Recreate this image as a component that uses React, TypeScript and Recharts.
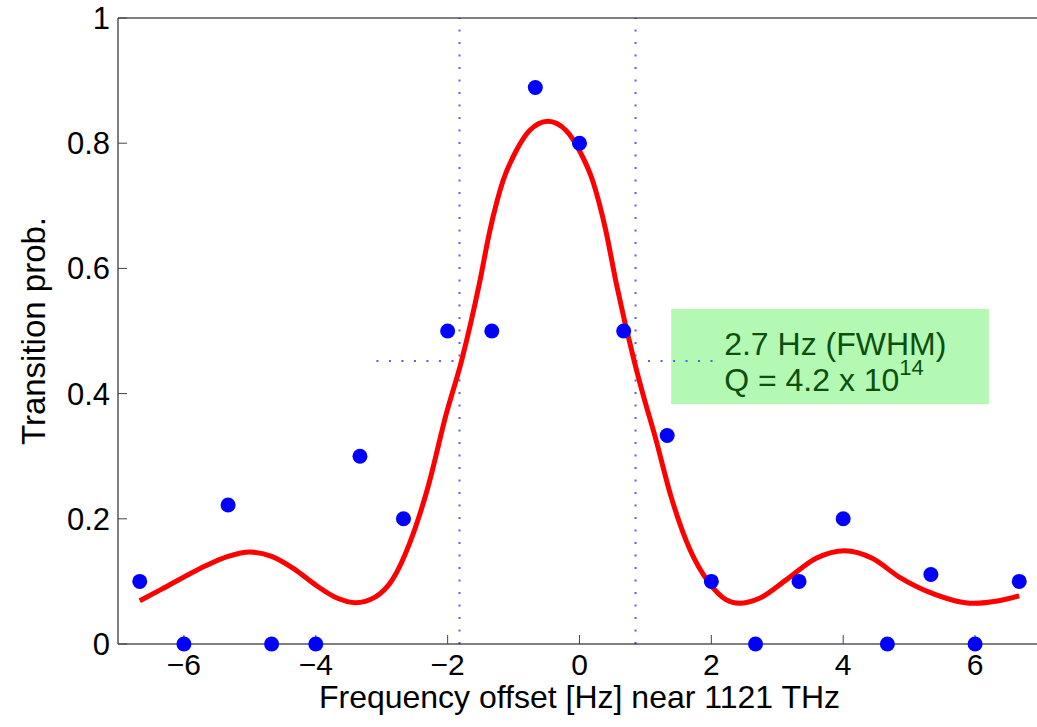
import React from 'react';
import { ComposedChart, Line, Scatter, XAxis, YAxis, ReferenceLine, ReferenceArea } from 'recharts';

// measured points
const offsetHz = [-6.67, -6, -5.33, -4.67, -4, -3.33, -2.67, -2, -1.33, -0.67, 0, 0.67, 1.33, 2, 2.67, 3.33, 4, 4.67, 5.33, 6, 6.67];
const transitionProb = [0.1, 0, 0.222, 0, 0, 0.3, 0.2, 0.5, 0.5, 0.889, 0.8, 0.5, 0.333, 0.1, 0, 0.1, 0.2, 0, 0.111, 0, 0.1];

// fitted line shape
const fitHz = [
  -6.67, -6.33, -6.0, -5.67, -5.33, -5.0, -4.67, -4.33, -4.0, -3.67, -3.4, -3.1, -2.83, -2.58, -2.3, -2.02,
  -1.79, -1.52, -1.36, -1.16, -0.96, -0.76, -0.48, -0.2, 0, 0.2, 0.4, 0.56, 0.83, 0.96, 1.15, 1.39, 1.67,
  1.97, 2.22, 2.42, 2.73, 3.13, 3.59, 4.02, 4.44, 4.85, 5.35, 5.98, 6.36, 6.67,
];
const fitProb = [
  0.069, 0.088, 0.107, 0.125, 0.14, 0.147, 0.14, 0.12, 0.094, 0.073, 0.066, 0.075, 0.104, 0.16, 0.25, 0.368,
  0.452, 0.575, 0.66, 0.74, 0.788, 0.82, 0.835, 0.82, 0.788, 0.74, 0.66, 0.575, 0.452, 0.4, 0.33, 0.235, 0.152,
  0.097, 0.071, 0.065, 0.073, 0.102, 0.137, 0.149, 0.137, 0.107, 0.081, 0.065, 0.069, 0.077,
];

const xTicks = [-6, -4, -2, 0, 2, 4, 6];
const yTicks = [0, 0.2, 0.4, 0.6, 0.8, 1];

// FWHM markers
const fwhmEdges = [-1.82, 0.85];
const halfMax = 0.452;
const halfMaxSegments = [[-3.08, -1.82], [0.85, 2.12]];

const noteX = [1.39, 6.21];
const noteY = [0.383, 0.535];
const noteLine1 = '2.7 Hz (FWHM)';
const noteLine2 = 'Q = 4.2 x 10';
const noteExp = '14';

const measured = offsetHz.map((x, i) => ({ x, y: transitionProb[i] }));
const fitCurve = fitHz.map((x, i) => ({ x, y: fitProb[i] }));

const fmtX = (v: number) => (v < 0 ? `\u2212${-v}` : String(v));
const dotStyle = { stroke: '#5a5aff', strokeWidth: 2, strokeDasharray: '2 10.5' };

const Note = (props: any) => {
  const { x, y } = props.viewBox;
  return (
    <text fill="#0d4f0d" fontSize={32}>
      <tspan x={x + 53} y={y + 46}>{noteLine1}</tspan>
      <tspan x={x + 53} y={y + 82}>{noteLine2}</tspan>
      <tspan dy={-16} fontSize={22}>{noteExp}</tspan>
    </text>
  );
};

const App: React.FC = () => {
  return (
    <div
      style={{
        position: 'absolute', left: 0, top: 0, width: 1037, height: 727, overflow: 'hidden',
        background: '#fff', fontFamily: '"Liberation Sans", Arial, sans-serif',
      }}
    >
      <ComposedChart width={1045} height={727} margin={{ top: 17, right: 3, bottom: 0, left: 0 }}>
        <XAxis
          xAxisId="b" type="number" dataKey="x" domain={[-7, 7]} ticks={xTicks} tickFormatter={fmtX}
          height={83} tickSize={-9} tickMargin={19}
          axisLine={{ stroke: '#000' }} tickLine={{ stroke: '#444' }}
          tick={{ fontSize: 30, fill: '#000' }}
          label={{ value: 'Frequency offset [Hz] near 1121 THz', position: 'insideBottom', offset: 19, style: { fontSize: 32, fill: '#000' } }}
        />
        <XAxis
          xAxisId="t" orientation="top" type="number" domain={[-7, 7]} ticks={xTicks}
          height={1} tickSize={-9} tick={false} axisLine={{ stroke: '#000' }} tickLine={{ stroke: '#444' }}
        />
        <YAxis
          yAxisId="l" type="number" domain={[0, 1]} ticks={yTicks} width={118}
          tickSize={-9} tickMargin={17} axisLine={{ stroke: '#000' }} tickLine={{ stroke: '#444' }}
          tick={{ fontSize: 31, fill: '#000' }}
          label={{ value: 'Transition prob.', angle: -90, position: 'insideLeft', offset: 33, style: { fontSize: 33, fill: '#000', textAnchor: 'middle' } }}
        />
        <YAxis
          yAxisId="r" orientation="right" type="number" domain={[0, 1]} ticks={yTicks} width={1}
          tickSize={-9} tick={false} axisLine={{ stroke: '#000' }} tickLine={{ stroke: '#444' }}
        />

        <ReferenceArea
          xAxisId="b" yAxisId="l" x1={noteX[0]} x2={noteX[1]} y1={noteY[0]} y2={noteY[1]}
          fill="#b3f9b3" fillOpacity={1} stroke="none" label={Note}
        />
        {fwhmEdges.map((x) => (
          <ReferenceLine key={x} xAxisId="b" yAxisId="l" x={x} {...dotStyle} />
        ))}
        {halfMaxSegments.map(([a, b]) => (
          <ReferenceLine
            key={a} xAxisId="b" yAxisId="l" {...dotStyle}
            segment={[{ x: a, y: halfMax }, { x: b, y: halfMax }]}
          />
        ))}

        <Line
          xAxisId="b" yAxisId="l" data={fitCurve} dataKey="y" type="monotone"
          stroke="#ff0000" strokeWidth={5} dot={false} activeDot={false} isAnimationActive={false}
        />
        <Scatter
          xAxisId="b" yAxisId="l" data={measured} dataKey="y" isAnimationActive={false}
          shape={(p: any) => <circle cx={p.cx} cy={p.cy} r={7.5} fill="#0000ff" />}
        />
      </ComposedChart>
    </div>
  );
};

export default App;
